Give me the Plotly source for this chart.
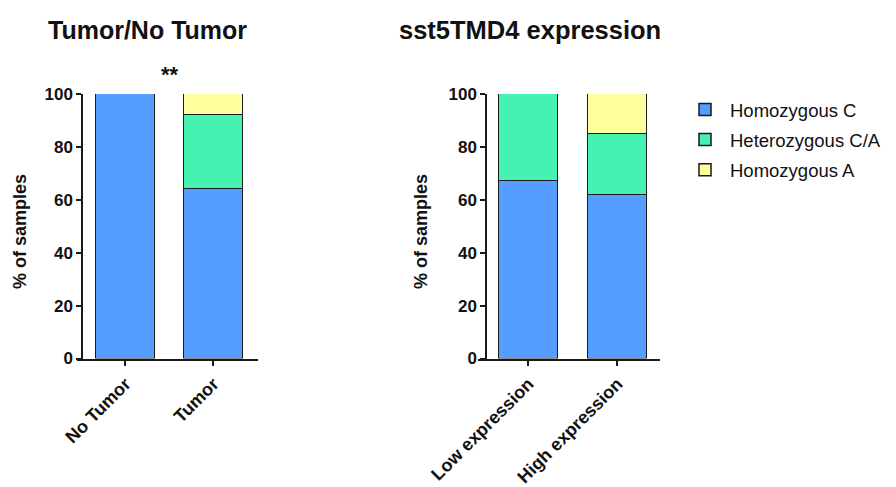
import plotly.graph_objects as go

# ---- data ----
left_categories = ["No Tumor", "Tumor"]
left_hom_c = [100, 64]
left_het_ca = [0, 28]
left_hom_a = [0, 8]

right_categories = ["Low expression", "High expression"]
right_hom_c = [67, 62]
right_het_ca = [33, 23]
right_hom_a = [0, 15]

series_names = ["Homozygous C", "Heterozygous C/A", "Homozygous A"]
series_colors = ["#559EFF", "#45F2B2", "#FFFF9E"]
y_ticks = [0, 20, 40, 60, 80, 100]

# page body has an 8px margin at left/top; figure fills the rest of the window
OFF = 8
W, H = 896 - OFF, 487 - OFF
FONT = "Liberation Sans, Arial, sans-serif"
AXC = "#1a1a1a"

def px(x):
    return (x - OFF) / W

def py(y):
    return 1 - (y - OFF) / H

fig = go.Figure()

left_vals = [left_hom_c, left_het_ca, left_hom_a]
right_vals = [right_hom_c, right_het_ca, right_hom_a]
for i, name in enumerate(series_names):
    fig.add_trace(go.Bar(
        x=list(range(len(left_categories))), y=left_vals[i], name=name,
        marker=dict(color=series_colors[i], line=dict(color=AXC, width=1.5)),
        width=0.67, xaxis="x", yaxis="y", showlegend=True, legendgroup=name,
    ))
for i, name in enumerate(series_names):
    fig.add_trace(go.Bar(
        x=list(range(len(right_categories))), y=right_vals[i], name=name,
        marker=dict(color=series_colors[i], line=dict(color=AXC, width=1.5)),
        width=0.663, xaxis="x2", yaxis="y2", showlegend=False, legendgroup=name,
    ))

y_bottom, y_top = 358.5, 94
common_y = dict(range=[0, 100], tickvals=y_ticks, ticktext=[f"<b>{t}</b>" for t in y_ticks],
                showline=True, linecolor=AXC,
                linewidth=1.5, ticks="outside", ticklen=5, tickwidth=1.5, tickcolor=AXC,
                showgrid=False, zeroline=False, automargin=False,
                tickfont=dict(family=FONT, size=17, color="#111111"),
                domain=[py(y_bottom), py(y_top)], anchor="free")
common_x = dict(showline=True, linecolor=AXC, linewidth=1.5, ticks="outside", ticklen=6,
                tickwidth=1.5, tickcolor=AXC, showgrid=False, zeroline=False,
                automargin=False,
                tickangle=-45, tickfont=dict(family=FONT, size=18, color="#111111"))

fig.update_layout(
    width=W, height=H, barmode="stack", bargap=0,
    paper_bgcolor="white", plot_bgcolor="white",
    margin=dict(l=0, r=0, t=0, b=0, pad=0, autoexpand=False),
    font=dict(family=FONT, color="#111111"),
    xaxis=dict(domain=[px(77), px(258)], range=[-0.551, 1.506], anchor="y",
               tickvals=[0, 1], ticktext=[f"<b>{c}</b>" for c in left_categories], **common_x),
    yaxis=dict(position=px(82), **common_y),
    xaxis2=dict(domain=[px(478), px(660)], range=[-0.567, 1.478], anchor="y2",
                tickvals=[0, 1], ticktext=[f"<b>{c}</b>" for c in right_categories], **common_x),
    yaxis2=dict(position=px(486), **common_y),
    legend=dict(x=px(680), y=py(91), xanchor="left", yanchor="top",
                traceorder="grouped", tracegroupgap=3, itemwidth=40,
                font=dict(family=FONT, size=18.5, color="#111111"),
                bgcolor="rgba(0,0,0,0)"),
    showlegend=True,
)

annos = [
    dict(text="<b>Tumor/No Tumor</b>", x=px(147), y=py(30), font=dict(size=25)),
    dict(text="<b>sst5TMD4 expression</b>", x=px(530), y=py(30), font=dict(size=25.5)),
    dict(text="<b>**</b>", x=px(170), y=py(74), font=dict(size=22)),
    dict(text="<b>% of samples</b>", x=px(20), y=py(232), textangle=-90, font=dict(size=18)),
    dict(text="<b>% of samples</b>", x=px(421), y=py(232), textangle=-90, font=dict(size=18)),
]
for a in annos:
    a.update(xref="paper", yref="paper", showarrow=False, xanchor="center", yanchor="middle")
    a["font"].update(family=FONT, color="#111111")
    fig.add_annotation(**a)

fig.write_html("out.html")
